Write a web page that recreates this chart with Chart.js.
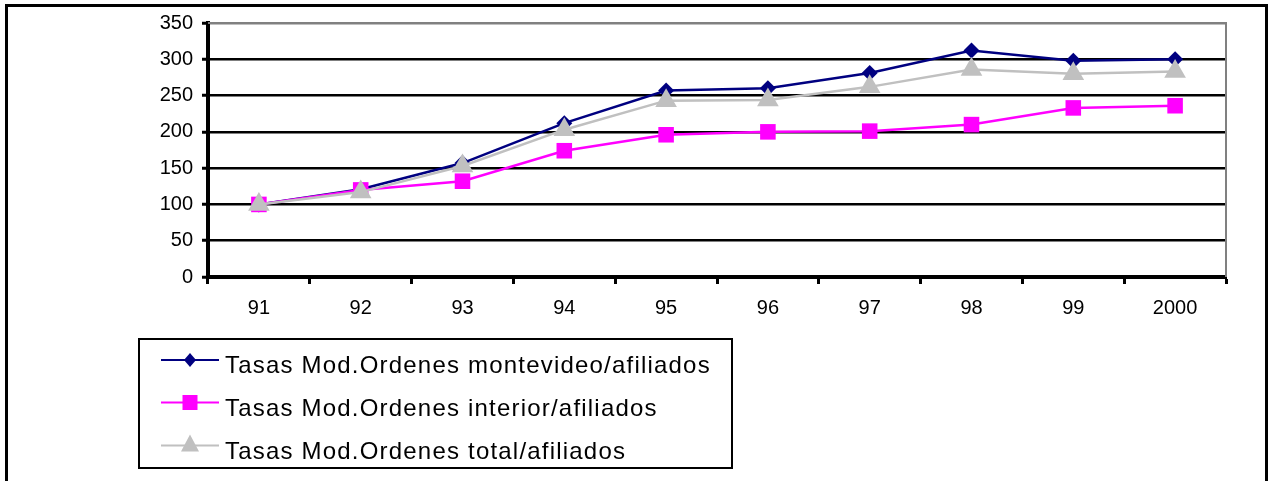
<!DOCTYPE html>
<html>
<head>
<meta charset="utf-8">
<title>Tasas Mod.Ordenes</title>
<script src="https://cdn.jsdelivr.net/npm/chart.js@4/dist/chart.umd.min.js"></script>
<style>
  html, body { margin: 0; padding: 0; background: #fff; }
  canvas { display: block; }
</style>
</head>
<body>
<canvas id="tasas" width="1272" height="481"></canvas>
<script>
// años y tasas (base 91 = 100)
var years = ['91', '92', '93', '94', '95', '96', '97', '98', '99', '2000'];
var montevideo = [100, 121, 157, 212, 257, 260, 281, 312, 298, 300];
var interior = [100, 120, 132, 174, 196, 200, 201, 210, 233, 236];
var total = [100, 117, 153, 203, 243, 244, 262, 286, 280, 283];
var seriesNames = [
    'Tasas Mod.Ordenes montevideo/afiliados',
    'Tasas Mod.Ordenes interior/afiliados',
    'Tasas Mod.Ordenes total/afiliados'
];
var yMax = 350;
var yStep = 50;

var FONT = '"Liberation Sans", Arial, sans-serif';

// marco exterior, borde gris del área y leyenda con recuadro
var framePlugin = {
    id: 'frame',
    beforeDraw: function(chart) {
        var ctx = chart.ctx;
        ctx.save();
        ctx.fillStyle = '#fff';
        ctx.fillRect(0, 0, chart.width, chart.height);
        ctx.strokeStyle = '#000';
        ctx.lineWidth = 3;
        ctx.strokeRect(6.5, 5.5, 1260, 520);
        ctx.restore();
    },
    beforeDatasetsDraw: function(chart) {
        var a = chart.chartArea, ctx = chart.ctx;
        ctx.save();
        ctx.strokeStyle = '#808080';
        ctx.lineWidth = 2;
        ctx.beginPath();
        ctx.moveTo(a.left, a.top);
        ctx.lineTo(a.right, a.top);
        ctx.lineTo(a.right, a.bottom);
        ctx.stroke();
        ctx.restore();
    },
    afterDraw: function(chart) {
        var ctx = chart.ctx;
        ctx.save();
        ctx.letterSpacing = '1.2px';
        ctx.strokeStyle = '#000';
        ctx.lineWidth = 2;
        ctx.strokeRect(139, 339, 593, 129);
        var rows = [360, 402.5, 445.5];
        chart.data.datasets.forEach(function(ds, i) {
            var y = rows[i];
            ctx.strokeStyle = ds.borderColor;
            ctx.fillStyle = ds.backgroundColor;
            ctx.lineWidth = 2;
            ctx.beginPath();
            ctx.moveTo(161, y);
            ctx.lineTo(219, y);
            ctx.stroke();
            var x = 190;
            ctx.beginPath();
            if (ds.pointStyle === 'rectRot') {
                ctx.moveTo(x - 6, y); ctx.lineTo(x, y - 7);
                ctx.lineTo(x + 6, y); ctx.lineTo(x, y + 7);
            } else if (ds.pointStyle === 'rect') {
                ctx.rect(x - 7.5, y - 7.5, 15, 15);
            } else {
                ctx.moveTo(x, y - 11); ctx.lineTo(x + 9, y + 6); ctx.lineTo(x - 9, y + 6);
            }
            ctx.closePath();
            ctx.fill();
            ctx.fillStyle = '#000';
            ctx.font = '24px ' + FONT;
            ctx.textBaseline = 'alphabetic';
            ctx.fillText(ds.label, 225, y + 13);
        });
        ctx.restore();
    }
};

var ctx = document.getElementById('tasas').getContext('2d');
var tasasChart = new Chart(ctx, {
    type: 'line',
    data: {
        labels: years,
        datasets: [{
            label: seriesNames[0],
            data: montevideo,
            borderColor: '#000080',
            backgroundColor: '#000080',
            pointStyle: 'rectRot',
            pointRadius: 8,
            order: 3
        }, {
            label: seriesNames[1],
            data: interior,
            borderColor: '#FF00FF',
            backgroundColor: '#FF00FF',
            pointStyle: 'rect',
            pointRadius: 11,
            order: 2
        }, {
            label: seriesNames[2],
            data: total,
            borderColor: '#C0C0C0',
            backgroundColor: '#C0C0C0',
            pointStyle: 'triangle',
            pointRadius: 12.5,
            order: 1
        }]
    },
    options: {
        responsive: false,
        animation: false,
        events: [],
        elements: {
            line: { borderWidth: 2.5, tension: 0 },
            point: { borderWidth: 0, hoverRadius: 0 }
        },
        layout: { padding: { top: 23, right: 46, left: 0, bottom: 0 } },
        plugins: {
            legend: { display: false },
            tooltip: { enabled: false }
        },
        scales: {
            x: {
                offset: true,
                grid: {
                    offset: true,
                    drawOnChartArea: false,
                    drawTicks: true,
                    tickLength: 7,
                    tickColor: '#000',
                    tickWidth: 3
                },
                border: { color: '#000', width: 4 },
                ticks: {
                    color: '#000',
                    padding: 12,
                    font: { family: FONT, size: 20 }
                },
                afterFit: function(scale) { scale.height = 204; }
            },
            y: {
                min: 0,
                max: yMax,
                grid: {
                    color: function(c) { return c.tick && c.tick.value === yMax ? '#808080' : '#000'; },
                    lineWidth: 2.5,
                    tickLength: 6,
                    tickColor: '#000',
                    tickWidth: 3
                },
                border: { color: '#000', width: 4 },
                ticks: {
                    stepSize: yStep,
                    color: '#000',
                    padding: 9,
                    font: { family: FONT, size: 20 }
                },
                afterFit: function(scale) { scale.width = 208; }
            }
        }
    },
    plugins: [framePlugin]
});
</script>
</body>
</html>
